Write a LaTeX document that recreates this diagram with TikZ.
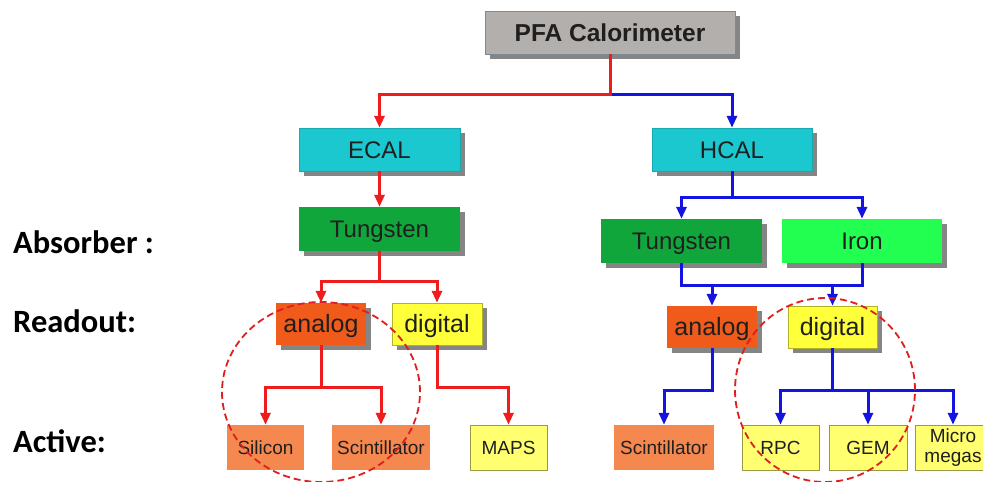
\documentclass[tikz,border=0pt]{standalone}
\usepackage{fontspec}
\setmainfont{Liberation Sans}
\newfontfamily\labelfont{Carlito}
\usetikzlibrary{arrows.meta,shapes.geometric,shadows}
\definecolor{pfagray}{HTML}{B3AFAC}
\definecolor{pfaborder}{HTML}{7A8A96}
\definecolor{cyanbox}{HTML}{1CC8D0}
\definecolor{tung}{HTML}{10A63C}
\definecolor{ironc}{HTML}{22FF50}
\definecolor{anac}{HTML}{F05A1A}
\definecolor{digc}{HTML}{FFFF3A}
\definecolor{salmon}{HTML}{F5884F}
\definecolor{lyellow}{HTML}{FFFF70}
\definecolor{redc}{HTML}{EE1C1C}
\definecolor{bluec}{HTML}{1414E0}
\definecolor{shadowc}{HTML}{858585}
\definecolor{ellc}{HTML}{E01E1E}
\tikzset{
  box/.style={rectangle, inner sep=0pt, minimum height=43pt, text=black!88,
    font=\fontsize{24}{28}\selectfont, text height=17.2pt, text depth=0pt},
  shadowed/.style={drop shadow={shadow xshift=5pt, shadow yshift=-5pt, fill=shadowc, opacity=1}},
  midbox/.style={box, shadowed, minimum height=42pt, font=\fontsize{25}{28}\selectfont, text height=17.9pt},
  smallbox/.style={box, minimum height=45pt, font=\fontsize{19}{20}\selectfont, text height=13.6pt},
  redline/.style={draw=redc, line width=3pt},
  blueline/.style={draw=bluec, line width=3pt},
  redarr/.style={redline, -{Triangle[length=12pt,width=10pt]}},
  bluearr/.style={blueline, -{Triangle[length=12pt,width=10pt]}},
  rowlabel/.style={anchor=base west, inner sep=0pt, font=\labelfont\bfseries\fontsize{32.5}{36}\selectfont},
  ring/.style={ellipse, draw=ellc, line width=1.8pt, dash pattern=on 7pt off 4pt, inner sep=0pt}
}
\begin{document}
\begin{tikzpicture}[x=1pt,y=-1pt]
\useasboundingbox (0,0) rectangle (983,482);
\clip (0,0) rectangle (983,482);
\fill[white] (0,0) rectangle (983,482);

% row labels
\node[rowlabel] (labAbs) at (13,253) {Absorber :};
\node[rowlabel] (labRead) at (13,332) {Readout:};
\node[rowlabel] (labAct) at (13,452) {Active:};

% boxes
\node[box, shadowed, fill=pfagray, draw=pfaborder, line width=0.8pt, minimum width=250pt,
      font=\bfseries\fontsize{24.5}{28}\selectfont, text height=17.5pt] (pfa) at (610,32.5) {PFA Calorimeter};
\node[box, shadowed, fill=cyanbox, draw=cyanbox!85!black, line width=0.5pt, minimum width=161pt] (ecal) at (379.5,149.5) {ECAL};
\node[box, shadowed, fill=cyanbox, draw=cyanbox!85!black, line width=0.5pt, minimum width=160pt] (hcal) at (732,149.5) {HCAL};
\node[box, shadowed, fill=tung, minimum width=161pt, minimum height=44pt] (tungE) at (379.5,229) {Tungsten};
\node[box, shadowed, fill=tung, minimum width=161pt, minimum height=44pt] (tungH) at (681.5,241) {Tungsten};
\node[box, shadowed, fill=ironc, minimum width=160pt, minimum height=44pt] (iron) at (862,241) {Iron};

\node[midbox, fill=anac, minimum width=90pt] (anaE) at (321,324) {analog};
\node[midbox, fill=digc, draw=digc!70!black, line width=0.5pt, minimum width=90pt] (digE) at (437,324) {digital};
\node[midbox, fill=anac, minimum width=90pt] (anaH) at (712,327) {analog};
\node[midbox, fill=digc, draw=digc!70!black, line width=0.5pt, minimum width=89pt] (digH) at (832.5,327) {digital};

\node[smallbox, fill=salmon, minimum width=77pt] (silicon) at (265.5,447.5) {Silicon};
\node[smallbox, fill=salmon, minimum width=98pt] (scintE) at (381,447.5) {Scintillator};
\node[smallbox, fill=lyellow, draw=lyellow!60!black, line width=0.5pt, minimum width=77pt] (maps) at (508.5,447.5) {MAPS};
\node[smallbox, fill=salmon, minimum width=100pt] (scintH) at (664,447.5) {Scintillator};
\node[smallbox, fill=lyellow, draw=lyellow!60!black, line width=0.5pt, minimum width=77pt] (rpc) at (780.5,447.5) {RPC};
\node[smallbox, fill=lyellow, draw=lyellow!60!black, line width=0.5pt, minimum width=78pt] (gem) at (868,447.5) {GEM};
\node[smallbox, fill=lyellow, draw=lyellow!60!black, line width=0.5pt, minimum width=76pt, align=center,
      text height=, text depth=] (micro) at (953,447.5) {Micro\\megas};

% connectors
\draw[bluearr] (pfa.south) ++(0,40) -| (hcal.north);
\draw[redarr] (pfa.south) -- ++(0,40) -| (ecal.north);
\draw[redarr] (ecal.south) -- (tungE.north);

\draw[bluearr] (hcal.south) -- ++(0,26) -| (tungH.north);
\draw[bluearr] (hcal.south) -- ++(0,26) -| (iron.north);

\draw[redarr] (tungE.south) -- ++(0,30) -| (anaE.north);
\draw[redarr] (tungE.south) -- ++(0,30) -| (digE.north);

\coordinate (hj) at (0,285);
\draw[blueline] (tungH.south) |- (hj -| iron.south) -- (iron.south);
\draw[bluearr] (hj -| anaH.north) -- (anaH.north);
\draw[bluearr] (hj -| digH.north) -- (digH.north);

\draw[redarr] (anaE.south) -- ++(0,42) -| (silicon.north);
\draw[redarr] (anaE.south) -- ++(0,42) -| (scintE.north);
\draw[redarr] (digE.south) -- ++(0,42) -| (maps.north);

\draw[bluearr] (anaH.south) -- ++(0,42) -| (scintH.north);
\draw[bluearr] (digH.south) -- ++(0,42) -| (rpc.north);
\draw[bluearr] (digH.south) -- ++(0,42) -| (gem.north);
\draw[bluearr] (digH.south) -- ++(0,42) -| (micro.north);

% dashed rings
\node[ring, minimum width=198pt, minimum height=180pt] (ringL) at (321,392) {};
\node[ring, minimum width=180pt, minimum height=184pt] (ringR) at (825,390) {};
\end{tikzpicture}
\end{document}
